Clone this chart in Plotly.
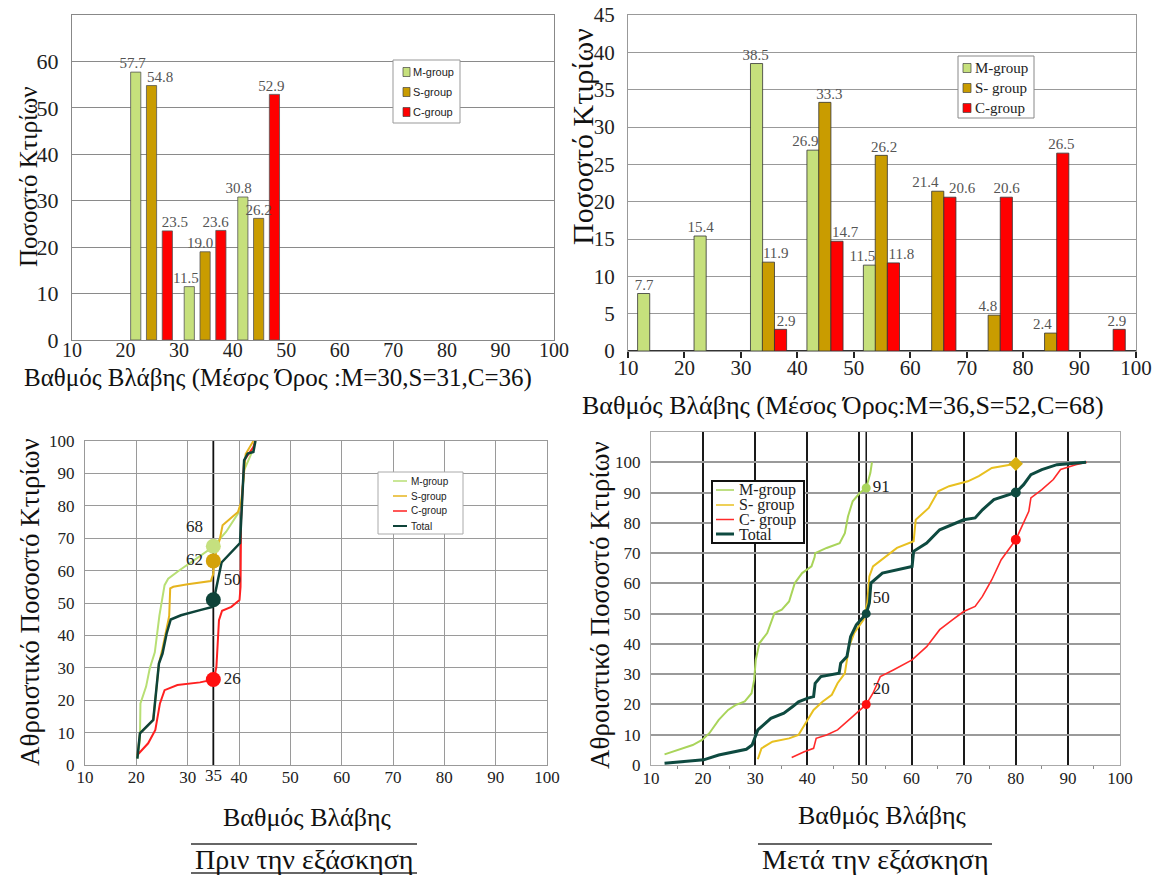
import plotly.graph_objects as go

W, H = 1153, 875

# ---------------- data ----------------
# Histograms (percentage of buildings per damage-grade bin)
bins_before = [20, 30, 40]
m_before = [57.7, 11.5, 30.8]
s_before = [54.8, 19.0, 26.2]
c_before = [23.5, 23.6, 52.9]

bins_after = [10, 20, 30, 40, 50, 60, 70, 80, 90]
m_after = [7.7, 15.4, 38.5, 26.9, 11.5, None, None, None, None]
s_after = [None, None, 11.9, 33.3, 26.2, 21.4, 4.8, 2.4, None]
c_after = [None, None, 2.9, 14.7, 11.8, 20.6, 20.6, 26.5, 2.9]

# Cumulative curves - before training
cb_m_x = [20.2, 20.7, 20.8, 21.9, 22.6, 23.6, 24.5, 25.5, 26.2, 28.4, 31.7, 34.9, 37.5, 39.8, 40.5, 41.0, 42.4, 43.2]
cb_m_y = [2, 7.7, 19, 24.2, 29.7, 34.8, 46.2, 55.5, 57.5, 60.1, 63.7, 67.3, 72, 77.6, 81.2, 91, 96.1, 100]
cb_s_x = [20.2, 20.7, 23.3, 23.7, 24.4, 25.1, 25.9, 26.4, 26.6, 27.2, 30, 34.5, 35.0, 35.1, 36.3, 36.8, 39.8, 40.4, 40.8, 41.3, 42.8]
cb_s_y = [2.6, 9.8, 13.9, 21, 31.3, 36, 42, 46, 54.5, 55, 55.8, 56.8, 59, 63, 70, 74, 78.1, 81, 87, 96, 100]
cb_c_x = [20.2, 22.3, 23.7, 24.6, 25.5, 28, 32.4, 35.1, 35.6, 36.1, 36.7, 38.5, 40.1, 40.3, 40.4, 41.0, 42.8, 43.2]
cb_c_y = [3.1, 6.7, 10.8, 19, 23.1, 24.7, 25.5, 26.4, 30.3, 44.7, 47.6, 48.8, 50.9, 55, 75.5, 94, 98.1, 100]
cb_t_x = [20.2, 20.7, 23.3, 23.7, 24.4, 25.1, 25.9, 26.7, 28.7, 32.4, 34.8, 35.1, 35.9, 36.6, 40.2, 40.5, 41.0, 41.7, 42.8, 43.2]
cb_t_y = [2, 9.8, 13.9, 21, 31.3, 34.4, 40.6, 44.9, 46.2, 47.8, 48.8, 51, 57.5, 62.5, 68.5, 77.6, 94, 96.1, 96.6, 100]

# Cumulative curves - after training
ca_m_x = [12.6, 15.1, 18, 19.8, 21.2, 23, 24.8, 26.2, 28, 29.3, 29.8, 30.1, 30.8, 32.3, 33.3, 33.7, 35.1, 36.5, 37.6, 39, 40.8, 41.4, 41.5, 43.7, 46.2, 47.2, 47.8, 48.7, 50.1, 51.3, 52.1, 52.4]
ca_m_y = [3.5, 5, 6.6, 8.3, 10.5, 14.9, 18.2, 19.8, 21, 23.7, 28.1, 34.7, 40.2, 43.6, 48, 50.2, 51.3, 54, 60.1, 63.4, 65.6, 68.7, 70, 71.7, 73.3, 76.6, 82.1, 87.1, 89.9, 91.5, 96.5, 100]
ca_s_x = [30.5, 31.2, 33.3, 36.5, 38.3, 39.7, 41.2, 42.9, 44.7, 45.8, 47.2, 47.6, 48, 49, 50.8, 51.5, 51.9, 52.6, 55.1, 57.2, 60.4, 60.8, 63.3, 65.1, 67.2, 70.8, 72.9, 75.4, 80]
ca_s_y = [1.9, 5.5, 7.7, 8.8, 9.9, 13.8, 18.2, 20.9, 23.2, 27, 30.3, 34.7, 39.1, 43.6, 48, 53.5, 62.3, 65.6, 68.9, 71.7, 73.9, 81, 84.9, 90.4, 92.1, 93.7, 95.4, 98.1, 99.5]
ca_c_x = [37, 39.4, 41.2, 41.7, 43.7, 45.8, 48.3, 50.1, 51.3, 52.6, 54, 56.5, 60.1, 62.9, 65.4, 67.9, 70, 72.2, 73.6, 75.4, 77.2, 80, 81.5, 82.5, 82.9, 85, 87.2, 88.6, 91.5, 93.6]
ca_c_y = [2.5, 4.4, 5.5, 8.8, 9.9, 11.6, 15.4, 18.2, 20, 23.7, 29.2, 31.4, 34.7, 39.1, 44.7, 48, 50.7, 52.4, 55.7, 61.2, 67.8, 74.4, 79.9, 83.8, 88.2, 91, 94.3, 97.6, 99.2, 100]
ca_t_x = [12.6, 15.8, 20.1, 23, 25.8, 28.3, 29.4, 30.5, 33, 35.5, 37.2, 38.3, 40.1, 41.2, 41.5, 42.6, 46.1, 46.4, 47.6, 48.3, 49.4, 51.3, 51.9, 52.2, 54.4, 57.2, 60.1, 60.4, 62.9, 65.4, 67.9, 70, 72.2, 73.6, 75.8, 77.9, 80, 81.5, 82.9, 85, 87.9, 93.5]
ca_t_y = [0.6, 1.1, 1.7, 3.3, 4.4, 5.2, 6.6, 11.6, 15.4, 17.1, 19.3, 20.9, 22.1, 22.6, 27, 29.2, 30.3, 33.6, 35.8, 42.4, 46.3, 50, 53.5, 60.1, 63.4, 64.5, 65.6, 70.6, 73.3, 77.7, 79.4, 81, 81.6, 84.3, 87.7, 88.8, 90, 92.6, 95.9, 97.6, 99.2, 100]

# highlighted points
before_ref_x = 35
before_pts = {"M": 67.5, "S": 63, "T": 51, "C": 26.4}
before_lbl = {"M": "68", "S": "62", "T": "50", "C": "26"}
after_ref_x = 51.3
after_pts = {"M": 91.5, "T": 50, "C": 20}
after_lbl = {"M": "91", "T": "50", "C": "20"}
after_ref_x2 = 80
after_pts2 = {"S": 99.5, "T": 90, "C": 74.4}

# legend labels
leg_tl = ["M-group", "S-group", "C-group"]
leg_tr = ["M-group", "S- group", "C-group"]
leg_bl = ["M-group", "S-group", "C-group", "Total"]
leg_br = ["M-group", "S- group", "C- group", "Total"]

# ---------------- style ----------------
SERIF = "Times New Roman"
SANS = "Arial"
M_BAR, S_BAR, C_BAR = "#c6e07c", "#c99c00", "#ff0000"
M_L, S_L, C_L, T_L = "#b8df74", "#e6b41e", "#ff2020", "#0e4339"
M_L2, S_L2, C_L2, T_L2 = "#a9d45a", "#e8c020", "#ff2a2a", "#0e4a40"

# horizontal nudges of the value labels (axis units), as placed in the original
tl_label_dx = [[-0.6, -0.65, -0.8], [1.6, -0.95, 0.0], [1.4, -1.0, -0.55]]
tr_label_dx = [[0.1, 0.1, -0.15, -1.35, -1.25, 0, 0, 0, 0],
               [0, 0, 1.3, 0.8, 0.5, -2.2, -1.1, -1.45, 0],
               [0, 0, 1.0, 1.45, 1.4, 2.15, 0.05, -0.25, -0.4]]

def px(x):
    return x / W

def py(y):
    return 1 - y / H

fig = go.Figure()

# ---- top-left bars ----
xc_before = [b + 5 for b in bins_before]
tl_series = [(leg_tl[0], m_before, M_BAR, -4.05),
             (leg_tl[1], s_before, S_BAR, -1.1),
             (leg_tl[2], c_before, C_BAR, 1.85)]
TL_W = 1.9
for name, vals, col, off in tl_series:
    fig.add_trace(go.Bar(
        x=xc_before, y=vals, name=name, width=TL_W, offset=off,
        marker=dict(color=col, line=dict(color="#555", width=0.8)),
        showlegend=False, xaxis="x", yaxis="y"))
for (name, vals, col, off), dxs in zip(tl_series, tl_label_dx):
    fig.add_trace(go.Scatter(
        x=[x + off + TL_W / 2 + d for x, d in zip(xc_before, dxs)], y=vals, mode="text",
        texttemplate="%{y:.1f}", textposition="top center", showlegend=False,
        textfont=dict(family=SERIF, size=15, color="#555"), cliponaxis=False,
        xaxis="x", yaxis="y"))

# ---- top-right bars ----
xc_after = [b + 5 for b in bins_after]
tr_series = [(leg_tr[0], m_after, M_BAR, -3.3),
             (leg_tr[1], s_after, S_BAR, -1.2),
             (leg_tr[2], c_after, C_BAR, 0.95)]
TR_W = 2.15
for name, vals, col, off in tr_series:
    fig.add_trace(go.Bar(
        x=xc_after, y=vals, name=name, width=TR_W, offset=off,
        marker=dict(color=col, line=dict(color="#333", width=0.8)),
        showlegend=False, xaxis="x2", yaxis="y2"))
for (name, vals, col, off), dxs in zip(tr_series, tr_label_dx):
    fig.add_trace(go.Scatter(
        x=[x + off + TR_W / 2 + d for x, d in zip(xc_after, dxs)], y=vals, mode="text",
        texttemplate="%{y:.1f}", textposition="top center", showlegend=False,
        textfont=dict(family=SERIF, size=15, color="#555"), cliponaxis=False,
        xaxis="x2", yaxis="y2"))

# ---- bottom-left cumulative ----
bl_series = [(leg_bl[0], cb_m_x, cb_m_y, M_L, 2),
             (leg_bl[1], cb_s_x, cb_s_y, S_L, 2),
             (leg_bl[2], cb_c_x, cb_c_y, C_L, 2),
             (leg_bl[3], cb_t_x, cb_t_y, T_L, 2.5)]
for name, xs, ys, col, w in bl_series:
    fig.add_trace(go.Scatter(x=xs, y=ys, mode="lines", name=name,
                             line=dict(color=col, width=w), showlegend=False,
                             xaxis="x3", yaxis="y3"))

for key, col, pos in [("M", "#c5e07f", "top left"), ("S", "#d4a20a", "middle left"),
                      ("T", T_L, "top right"), ("C", "#ff1010", "middle right")]:
    fig.add_trace(go.Scatter(
        x=[before_ref_x], y=[before_pts[key]], mode="markers+text",
        text=[before_lbl[key]], textposition=pos,
        textfont=dict(family=SERIF, size=17, color="#222"),
        marker=dict(color=col, size=15), showlegend=False, cliponaxis=False,
        xaxis="x3", yaxis="y3"))

# ---- bottom-right cumulative ----
br_series = [(leg_br[0], ca_m_x, ca_m_y, M_L2, 2),
             (leg_br[1], ca_s_x, ca_s_y, S_L2, 2),
             (leg_br[2], ca_c_x, ca_c_y, C_L2, 1.6),
             (leg_br[3], ca_t_x, ca_t_y, T_L2, 3)]
for name, xs, ys, col, w in br_series:
    fig.add_trace(go.Scatter(x=xs, y=ys, mode="lines", name=name,
                             line=dict(color=col, width=w), showlegend=False,
                             xaxis="x4", yaxis="y4"))

for key, col, pos in [("M", M_L2, "middle right"), ("T", T_L2, "top right"),
                      ("C", "#ff1010", "top right")]:
    fig.add_trace(go.Scatter(
        x=[after_ref_x], y=[after_pts[key]], mode="markers+text",
        text=[after_lbl[key]], textposition=pos,
        textfont=dict(family=SERIF, size=17, color="#222"),
        marker=dict(color=col, size=9), showlegend=False, cliponaxis=False,
        xaxis="x4", yaxis="y4"))
for key, col, sym, sz in [("S", "#d8b010", "diamond", 11), ("T", T_L2, "circle", 10),
                          ("C", "#ff1010", "circle", 10)]:
    fig.add_trace(go.Scatter(
        x=[after_ref_x2], y=[after_pts2[key]], mode="markers",
        marker=dict(color=col, size=sz, symbol=sym), showlegend=False,
        cliponaxis=False, xaxis="x4", yaxis="y4"))

# ---------------- axes ----------------
def tick_serif(s):
    return dict(family=SERIF, size=s, color="#222")

layout = dict(
    width=W, height=H, margin=dict(l=0, r=0, t=0, b=0, autoexpand=False),
    paper_bgcolor="white", plot_bgcolor="white", showlegend=False,
    font=dict(family=SERIF),
    xaxis=dict(domain=[px(72), px(554)], range=[10, 100], dtick=10, showgrid=False,
               showline=True, linecolor="#888", mirror=True, ticks="", zeroline=False,
               tickfont=tick_serif(20), ticklabelstandoff=-8, anchor="y", automargin=False),
    yaxis=dict(domain=[py(340), py(15)], range=[0, 70], tickvals=[0, 10, 20, 30, 40, 50, 60],
               showgrid=True, gridcolor="#8a8a8a", gridwidth=1, showline=True, linecolor="#888",
               mirror=True, zeroline=False, tickfont=tick_serif(22), ticklabelstandoff=8,
               anchor="x", automargin=False),
    xaxis2=dict(domain=[px(628), px(1136)], range=[10, 100], dtick=10, showgrid=False,
                showline=True, linecolor="#999", mirror=True, ticks="outside", ticklen=6,
                tickwidth=2, tickcolor="#222", zeroline=False, ticklabelstandoff=-8,
                tickfont=tick_serif(21), anchor="y2", automargin=False),
    yaxis2=dict(domain=[py(351), py(15)], range=[0, 45], dtick=5, showgrid=True,
                gridcolor="#999", gridwidth=1, showline=True, linecolor="#999", mirror=True,
                zeroline=True, zerolinecolor="#333", zerolinewidth=1.5,
                tickfont=tick_serif(21), ticklabelstandoff=8, anchor="x2", automargin=False),
    xaxis3=dict(domain=[px(85), px(547)], range=[10, 100],
                tickvals=[10, 20, 30, 40, 50, 60, 70, 80, 90, 100],
                showgrid=True, gridcolor="#9a9a9a", gridwidth=1, showline=True,
                linecolor="#999", mirror=True, zeroline=False, ticks="", ticklabelstandoff=-3,
                tickfont=tick_serif(17), anchor="y3", automargin=False),
    yaxis3=dict(domain=[py(765), py(441)], range=[0, 100], dtick=10, showgrid=True,
                gridcolor="#9a9a9a", gridwidth=1, showline=True, linecolor="#999",
                mirror=True, zeroline=False, tickfont=tick_serif(17), ticklabelstandoff=6,
                anchor="x3", automargin=False),
    xaxis4=dict(domain=[px(651), px(1120)], range=[10, 100], dtick=10, showgrid=True,
                gridcolor="#1a1a1a", gridwidth=1.5, showline=True, linecolor="#aaa",
                mirror=True, zeroline=False, ticks="", tickfont=tick_serif(17),
                ticklabelstandoff=-2,
                minor=dict(dtick=5, ticks="outside", ticklen=3, tickcolor="#888"),
                anchor="y4", automargin=False),
    yaxis4=dict(domain=[py(765), py(432)], range=[0, 110],
                tickvals=[0, 10, 20, 30, 40, 50, 60, 70, 80, 90, 100], showgrid=True,
                gridcolor="#9a9a9a", gridwidth=2, showline=True, linecolor="#aaa",
                mirror=True, zeroline=False, tickfont=tick_serif(17), ticklabelstandoff=6,
                anchor="x4", automargin=False),
)
fig.update_layout(**layout)

# ---------------- reference lines ----------------
fig.add_shape(type="line", xref="x3", yref="y3", x0=before_ref_x, x1=before_ref_x, y0=0, y1=100,
              line=dict(color="#111", width=1.8), layer="below")
fig.add_shape(type="line", xref="x4", yref="y4", x0=after_ref_x, x1=after_ref_x, y0=0, y1=110,
              line=dict(color="#111", width=1.5), layer="below")

# ---------------- texts ----------------
ann = []
def txt(x, y, s, size, angle=0, anchor="center", color="#111", fam=SERIF):
    ann.append(dict(x=px(x), y=py(y), xref="paper", yref="paper", text=s, showarrow=False,
                    textangle=angle, xanchor=anchor, yanchor="middle",
                    font=dict(family=fam, size=size, color=color)))

txt(28, 177, "Ποσοστό Κτιρίων", 25, -90)
txt(278, 378, "Βαθμός Βλάβης (Μέσρς Όρος :M=30,S=31,C=36)", 25)
txt(582, 137, "Ποσοστό Κτιρίων", 30, -90)
txt(843, 405, "Βαθμός Βλάβης (Μέσος Όρος:M=36,S=52,C=68)", 26)
txt(30, 602, "Αθροιστικό Ποσοστό Κτιρίων", 27, -90)
txt(307, 817, "Βαθμός Βλάβης", 26)
txt(304, 859, "Πριν την εξάσκηση", 28)
txt(600, 605, "Αθροιστικό Ποσοστό Κτιρίων", 27, -90)
txt(882, 815, "Βαθμός Βλάβης", 26)
txt(875, 859, "Μετά την εξάσκηση", 28)
# extra tick label for the reference line at 35
ann.append(dict(x=before_ref_x, y=0, xref="x3", yref="y3", text="35", showarrow=False,
                yanchor="top", yshift=1, font=dict(family=SERIF, size=17, color="#222")))

for x0, x1, y in [(191, 417, 844), (191, 417, 873), (758, 992, 844)]:
    fig.add_shape(type="line", xref="paper", yref="paper", x0=px(x0), x1=px(x1),
                  y0=py(y), y1=py(y), line=dict(color="#333", width=1.5))

# ---------------- legends (drawn as boxes + swatches + text) ----------------
def legend(box, rows, names, colors, kind, sw, tx, fam, size, bcol, bw, lwidths=None):
    x0, y0, x1, y1 = box
    fig.add_shape(type="rect", xref="paper", yref="paper", x0=px(x0), x1=px(x1),
                  y0=py(y1), y1=py(y0), fillcolor="white", line=dict(color=bcol, width=bw))
    for i, (yy, nm, col) in enumerate(zip(rows, names, colors)):
        if kind == "bar":
            fig.add_shape(type="rect", xref="paper", yref="paper", x0=px(sw[0]), x1=px(sw[1]),
                          y0=py(yy + 4.5), y1=py(yy - 4.5), fillcolor=col,
                          line=dict(color="#444", width=0.7))
        else:
            fig.add_shape(type="line", xref="paper", yref="paper", x0=px(sw[0]), x1=px(sw[1]),
                          y0=py(yy), y1=py(yy), line=dict(color=col, width=lwidths[i]))
        ann.append(dict(x=px(tx), y=py(yy), xref="paper", yref="paper", text=nm,
                        showarrow=False, xanchor="left", yanchor="middle",
                        font=dict(family=fam, size=size, color="#222")))

legend((393, 60, 460, 123), [72, 92, 112], leg_tl, [M_BAR, S_BAR, C_BAR], "bar",
       (403, 410), 411, SANS, 11, "#999", 1)
legend((958, 56, 1034, 118), [68, 88, 108], leg_tr, [M_BAR, S_BAR, C_BAR], "bar",
       (963, 971), 973, SERIF, 15, "#888", 1)
legend((378, 472, 463, 534), [481, 496, 511, 526], leg_bl, [M_L, S_L, C_L, T_L], "line",
       (393, 407), 409, SANS, 10, "#aaa", 1, [1.5, 1.5, 1.5, 2])
legend((712, 481, 804, 543), [490, 505, 519.5, 534], leg_br, [M_L2, S_L2, C_L2, T_L2], "line",
       (716, 734), 737, SERIF, 16, "#111", 2, [1.5, 1.5, 1.5, 3])

fig.update_layout(annotations=ann)

fig.write_html("out.html", config={"displayModeBar": False},
               post_script="document.body.style.margin='0';document.body.style.padding='0';")
